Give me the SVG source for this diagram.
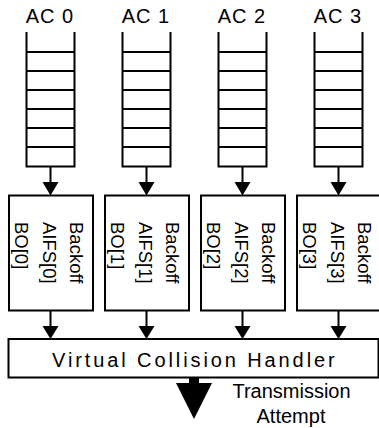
<svg xmlns="http://www.w3.org/2000/svg" width="379" height="428" viewBox="0 0 379 428">
<style>
.ln{stroke:#000;stroke-width:2;fill:none}
.bx{stroke:#000;stroke-width:2;fill:#fff}
.hd{fill:#000;stroke:none}
.lb{font-family:"Liberation Sans",Arial,sans-serif;font-size:20px;fill:#000}
.rt{font-family:"Liberation Sans",Arial,sans-serif;font-size:18.5px;fill:#000}
</style>
<defs>
<g id="queue">
<path class="ln" d="M0,32V166.5H48V32M0,52H48M0,71H48M0,90H48M0,109H48M0,128H48M0,147H48"/>
</g>
</defs>
<rect width="379" height="428" fill="#fff"/>
<g id="ac0">
<text class="lb" x="50" y="23" text-anchor="middle" letter-spacing="1">AC 0</text>
<use href="#queue" x="26.5"/>
</g>
<g id="ac1">
<text class="lb" x="146" y="23" text-anchor="middle" letter-spacing="1">AC 1</text>
<use href="#queue" x="122.5"/>
</g>
<g id="ac2">
<text class="lb" x="242" y="23" text-anchor="middle" letter-spacing="1">AC 2</text>
<use href="#queue" x="218.5"/>
</g>
<g id="ac3">
<text class="lb" x="338" y="23" text-anchor="middle" letter-spacing="1">AC 3</text>
<use href="#queue" x="314.5"/>
</g>
<g id="bo0">
<rect class="bx" x="9" y="195.5" width="84" height="115"/>
<text class="rt" transform="translate(70,222) rotate(90)"><tspan x="0" y="0">Backoff</tspan><tspan x="0" y="27.5">AIFS[0]</tspan><tspan x="0" y="55">BO[0]</tspan></text>
</g>
<g id="bo1">
<rect class="bx" x="105" y="195.5" width="84" height="115"/>
<text class="rt" transform="translate(166,222) rotate(90)"><tspan x="0" y="0">Backoff</tspan><tspan x="0" y="27.5">AIFS[1]</tspan><tspan x="0" y="55">BO[1]</tspan></text>
</g>
<g id="bo2">
<rect class="bx" x="201" y="195.5" width="84" height="115"/>
<text class="rt" transform="translate(262,222) rotate(90)"><tspan x="0" y="0">Backoff</tspan><tspan x="0" y="27.5">AIFS[2]</tspan><tspan x="0" y="55">BO[2]</tspan></text>
</g>
<g id="bo3">
<rect class="bx" x="297" y="195.5" width="84" height="115"/>
<text class="rt" transform="translate(358,222) rotate(90)"><tspan x="0" y="0">Backoff</tspan><tspan x="0" y="27.5">AIFS[3]</tspan><tspan x="0" y="55">BO[3]</tspan></text>
</g>
<g id="vch">
<rect class="bx" x="8.5" y="339" width="370" height="38.5"/>
<text class="lb" x="52" y="366.5" letter-spacing="2.9">Virtual Collision Handler</text>
</g>
<g id="connectors">
<path class="ln" d="M50.5,166.5V183M146.5,166.5V183M242.5,166.5V183M338.5,166.5V183"/>
<path class="hd" d="M42.5,182H58.5L50.5,195.5ZM138.5,182H154.5L146.5,195.5ZM234.5,182H250.5L242.5,195.5ZM330.5,182H346.5L338.5,195.5Z"/>
<path class="ln" d="M50.5,310.5V327M146.5,310.5V327M242.5,310.5V327M338.5,310.5V327"/>
<path class="hd" d="M42.5,326H58.5L50.5,339ZM138.5,326H154.5L146.5,339ZM234.5,326H250.5L242.5,339ZM330.5,326H346.5L338.5,339Z"/>
<path class="hd" d="M189,377.5H199V383H212L194,419L176,383H189Z"/>
</g>
<text class="lb" x="291.5" y="398" text-anchor="middle">Transmission</text>
<text class="lb" x="291" y="423" text-anchor="middle">Attempt</text>
</svg>
